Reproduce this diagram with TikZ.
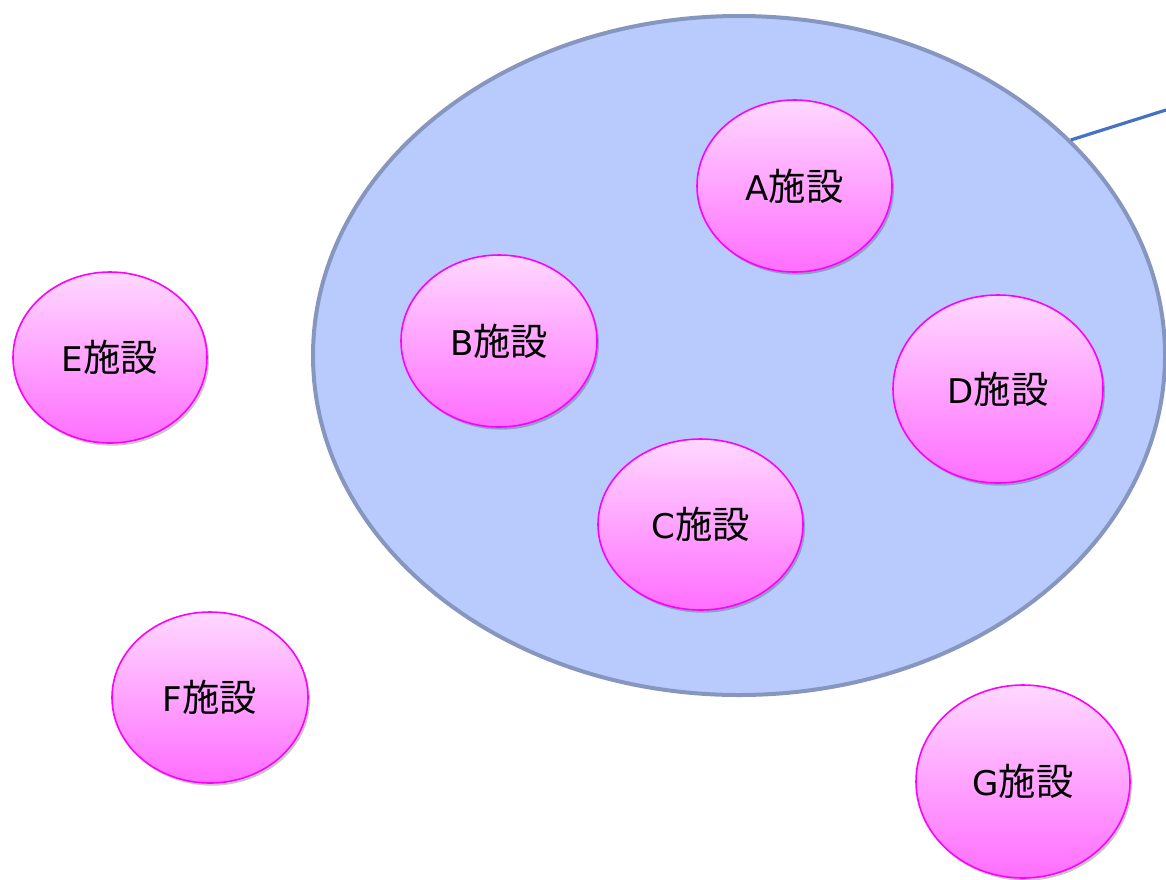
\documentclass[tikz,border=0pt]{standalone}
\usepackage{fontspec}
\setmainfont{DejaVu Sans}
\newfontfamily\cjk{Noto Sans CJK JP}
\usetikzlibrary{shapes.geometric,shadows}
\definecolor{bigfill}{HTML}{B8CBFC}
\definecolor{bigline}{HTML}{8796BF}
\definecolor{linkblue}{HTML}{4472C4}
\definecolor{pinktop}{HTML}{FFD8FF}
\definecolor{pinkbot}{HTML}{FF6EFF}
\definecolor{pinkline}{HTML}{FF00FF}
\newcommand{\shisetsu}[1]{#1{\cjk\fontsize{28}{30}\selectfont 施設}}
\tikzset{
  bigarea/.style={ellipse, draw=bigline, fill=bigfill, line width=3pt, inner sep=0pt},
  facility/.style n args={2}{ellipse, draw=pinkline, line width=1.2pt, inner sep=0pt,
    top color=pinktop, bottom color=pinkbot,
    minimum width=#1*1.5pt, minimum height=#2*1.5pt,
    font=\fontsize{25.5}{30}\selectfont, text=black,
    drop shadow={shadow xshift=1.5pt, shadow yshift=-2pt, opacity=0.22, fill=black}},
  link/.style={draw=linkblue, line width=2.4pt}
}
\begin{document}
\begin{tikzpicture}[x=0.75pt, y=-0.75pt]
\useasboundingbox (0,0) rectangle (1166,879);
\node[bigarea, minimum width=852*0.75pt, minimum height=679*0.75pt] (big) at (739,355.5) {};
\coordinate (lineend) at (1166,110);
\draw[link] (big.33) -- (lineend);
\node[facility={97.5}{86}] (A) at (794.5,186) {\shisetsu{A}};
\node[facility={98}{86}] (B) at (499,341) {\shisetsu{B}};
\node[facility={102.5}{85.5}] (C) at (700.5,524.5) {\shisetsu{C}};
\node[facility={105}{94}] (D) at (998,389) {\shisetsu{D}};
\node[facility={97}{85.5}] (E) at (110,357.5) {\shisetsu{E}};
\node[facility={98}{85.5}] (F) at (210,697.5) {\shisetsu{F}};
\node[facility={107}{96.5}] (G) at (1023,781.5) {\shisetsu{G}};
\end{tikzpicture}
\end{document}
